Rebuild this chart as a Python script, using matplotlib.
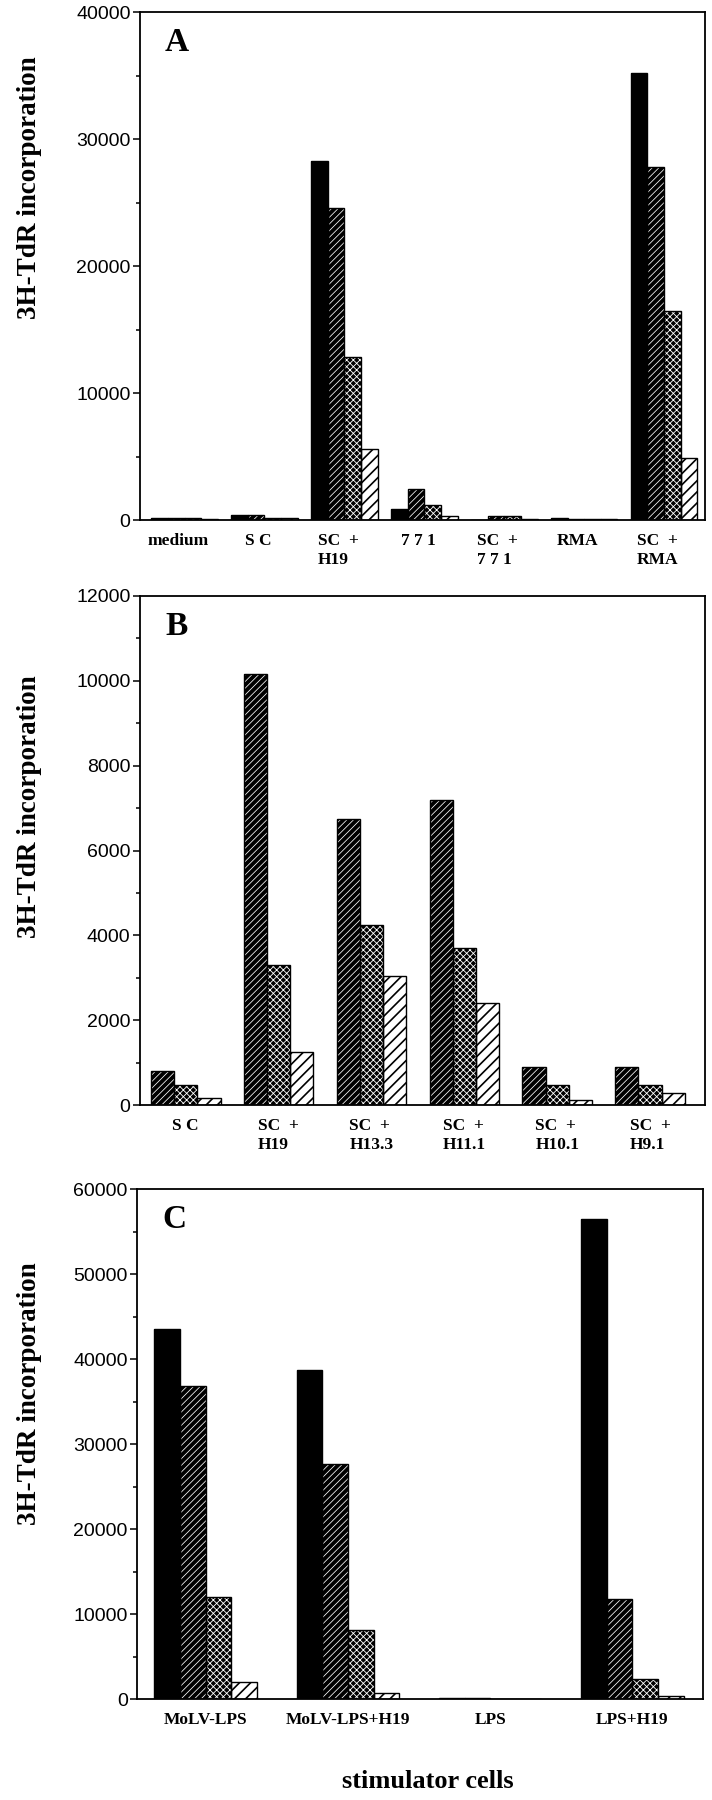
import numpy as np
import matplotlib
matplotlib.use('Agg')
import matplotlib.pyplot as plt
from matplotlib.ticker import MultipleLocator

# panel A
a_groups = ['medium', 'S C', 'SC  +\nH19', '7 7 1', 'SC  +\n7 7 1', 'RMA', 'SC  +\nRMA']
a_black = [150, 420, 28300, 830, 0, 120, 35200]
a_dark = [130, 420, 24600, 2450, 350, 100, 27800]
a_dots = [120, 150, 12800, 1200, 350, 80, 16450]
a_light = [110, 150, 5600, 300, 50, 80, 4900]

# panel B (no black series)
b_groups = ['S C', 'SC  +\nH19', 'SC  +\nH13.3', 'SC  +\nH11.1', 'SC  +\nH10.1', 'SC  +\nH9.1']
b_dark = [800, 10150, 6750, 7200, 900, 900]
b_dots = [480, 3300, 4250, 3700, 480, 480]
b_light = [170, 1250, 3030, 2400, 130, 280]

# panel C
c_groups = ['MoLV-LPS', 'MoLV-LPS+H19', 'LPS', 'LPS+H19']
c_black = [43500, 38700, 150, 56500]
c_dark = [36800, 27700, 120, 11800]
c_dots = [12000, 8100, 60, 2400]
c_light = [1950, 700, 40, 300]

SERIF = ['Liberation Serif', 'DejaVu Serif']
SANS = ['Liberation Sans', 'DejaVu Sans']

# face, hatch colour, hatch, hatch linewidth
STYLES = {
    'black': ('black', 'black', None, 1.0),
    'dark': ('black', 'white', '/////', 0.55),
    'dots': ('black', 'white', 'xxxxx', 0.6),
    'light': ('white', 'black', '///', 1.2),
}


def draw_bars(ax, x, vals, w, style):
    face, hcol, hatch, hlw = STYLES[style]
    with plt.rc_context({'hatch.linewidth': hlw}):
        bars = ax.bar(x, vals, w, facecolor=face, edgecolor=hcol,
                      hatch=hatch, linewidth=0, zorder=2)
    for b in bars:
        if hasattr(b, 'set_hatch_linewidth'):
            b.set_hatch_linewidth(hlw)
    ax.bar(x, vals, w, facecolor='none', edgecolor='black', linewidth=1.0, zorder=3)


def panel(ax, groups, series, w, xlim, ymax, major, letter, tick_shift=0.0):
    x = np.arange(len(groups))
    n = len(series)
    for i, (style, vals) in enumerate(series):
        draw_bars(ax, x + (i - (n - 1) / 2) * w, vals, w, style)
    ax.set_xlim(*xlim)
    ax.set_ylim(0, ymax)
    ax.yaxis.set_major_locator(MultipleLocator(major))
    ax.yaxis.set_minor_locator(MultipleLocator(major / 2))
    ax.set_xticks(x + tick_shift)
    ax.set_xticklabels(groups, fontfamily=SERIF, fontweight='bold', fontsize=12.5,
                       linespacing=1.25, ma='left', va='top')
    ax.tick_params(axis='x', length=0, pad=9)
    ax.tick_params(axis='y', which='major', length=5, width=1.1, pad=2, labelsize=14)
    ax.tick_params(axis='y', which='minor', length=3, width=1.1)
    for lab in ax.get_yticklabels():
        lab.set_fontfamily(SANS)
    for s in ax.spines.values():
        s.set_linewidth(1.3)
    ax.text(0.065, 0.94, letter, transform=ax.transAxes, ha='center', va='center',
            fontsize=24, fontweight='bold', fontfamily=SERIF)


fig = plt.figure(figsize=(7.12, 18), dpi=100)
axA = fig.add_axes([0.197, 0.7111, 0.793, 0.2822])
axB = fig.add_axes([0.197, 0.3861, 0.793, 0.2828])
axC = fig.add_axes([0.193, 0.0561, 0.795, 0.2833])

panel(axA, a_groups, [('black', a_black), ('dark', a_dark), ('dots', a_dots), ('light', a_light)],
      0.208, (-0.554, 6.51), 40000, 10000, 'A', tick_shift=-0.08)
panel(axB, b_groups, [('dark', b_dark), ('dots', b_dots), ('light', b_light)],
      0.25, (-0.49, 5.59), 12000, 2000, 'B')
panel(axC, c_groups, [('black', c_black), ('dark', c_dark), ('dots', c_dots), ('light', c_light)],
      0.18, (-0.48, 3.5), 60000, 10000, 'C')

for yc in [0.896, 0.552, 0.226]:
    fig.text(0.042, yc, '3H-TdR incorporation', rotation=90, ha='center', va='center',
             fontsize=19.5, fontweight='bold', fontfamily=SERIF)

fig.text(0.601, 0.01, 'stimulator cells', ha='center', va='center',
         fontsize=19, fontweight='bold', fontfamily=SERIF)

fig.savefig('out.png', dpi=100)
